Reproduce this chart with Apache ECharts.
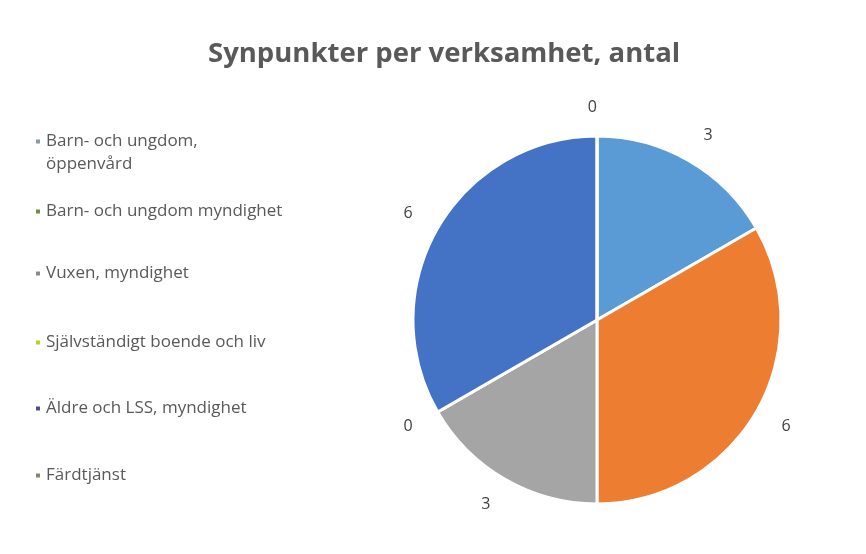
<!DOCTYPE html>
<html>
<head>
<meta charset="utf-8">
<script src="https://cdn.jsdelivr.net/npm/echarts@6/dist/echarts.min.js"></script>
<style>html,body{margin:0;padding:0;background:#fff;}#c{width:866px;height:554px;}</style>
</head>
<body>
<div id="c"></div>
<script>
var titleText = 'Synpunkter per verksamhet, antal';
var categories = [
  'Barn- och ungdom,\nöppenvård',
  'Barn- och ungdom myndighet',
  'Vuxen, myndighet',
  'Självständigt boende och liv',
  'Äldre och LSS, myndighet',
  'Färdtjänst'
];
var values = [3, 6, 3, 0, 6, 0];
var sliceColors = ['#5B9BD5', '#ED7D31', '#A5A5A5', '#FFC000', '#4472C4', '#70AD47'];
var legendMarkerColors = ['#8c9aa2', '#6f8f3a', '#8a8a8a', '#b8d030', '#4a4c94', '#7d8c6c'];
var legendTops = [102, 195, 257, 326, 392, 459];

var chart = echarts.init(document.getElementById('c'), null, {renderer: 'canvas'});
var legends = categories.map(function (name, i) {
  return {
    show: true,
    left: 29,
    top: legendTops[i],
    orient: 'vertical',
    icon: 'rect',
    itemWidth: 6,
    itemHeight: 6,
    itemGap: 0,
    data: [{name: name, itemStyle: {color: legendMarkerColors[i]}}],
    formatter: function (n) {
      return n.indexOf('\n') >= 0 ? ' \n' + n : n;
    },
    textStyle: {color: '#595959', fontSize: 17, fontFamily: 'Open Sans', lineHeight: 23},
    selectedMode: false
  };
});
chart.setOption({
  backgroundColor: '#ffffff',
  animation: false,
  title: {
    text: titleText,
    left: 203,
    top: 35,
    textStyle: {color: '#595959', fontSize: 27.5, fontWeight: 'bold', fontFamily: 'Open Sans'}
  },
  legend: legends,
  series: [{
    type: 'pie',
    center: [597, 320],
    radius: 184,
    startAngle: 90,
    clockwise: true,
    avoidLabelOverlap: false,
    minShowLabelAngle: 0,
    itemStyle: {borderColor: '#ffffff', borderWidth: 3},
    label: {
      show: true,
      position: 'outside',
      formatter: '{c}',
      color: '#404040',
      fontSize: 16,
      fontFamily: 'Open Sans',
      distanceToLabelLine: 0
    },
    labelLine: {show: false, length: 29, length2: 0},
    emphasis: {disabled: true},
    data: categories.map(function (name, i) {
      return {name: name, value: values[i], itemStyle: {color: sliceColors[i]}};
    })
  }]
});
</script>
</body>
</html>
